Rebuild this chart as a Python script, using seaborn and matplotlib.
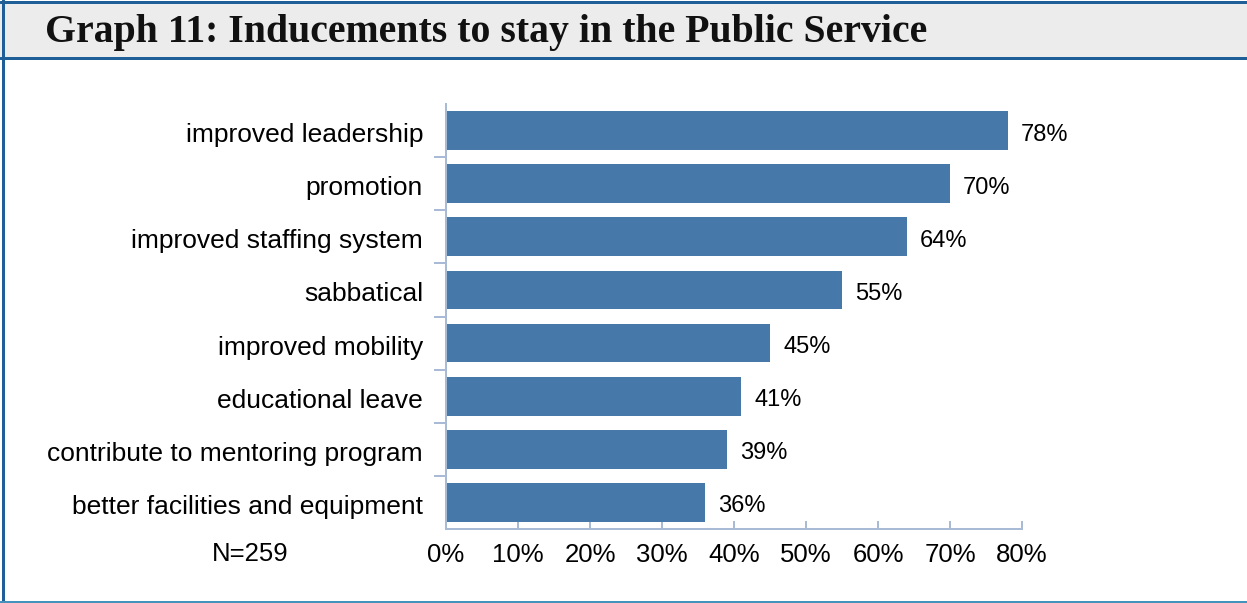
import matplotlib
matplotlib.use("Agg")
import matplotlib.pyplot as plt
from matplotlib.patches import Rectangle
from matplotlib.lines import Line2D
from matplotlib.transforms import ScaledTranslation
import seaborn as sns
import pandas as pd

# Survey results: share of respondents citing each inducement
categories = [
    "improved leadership",
    "promotion",
    "improved staffing system",
    "sabbatical",
    "improved mobility",
    "educational leave",
    "contribute to mentoring program",
    "better facilities and equipment",
]
values = [78, 70, 64, 55, 45, 41, 39, 36]
x_ticks = [0, 10, 20, 30, 40, 50, 60, 70, 80]
x_tick_labels = [f"{t}%" for t in x_ticks]
title = "Graph 11: Inducements to stay in the Public Service"
note = "N=259"

sns.set_theme(style="white")
plt.rcParams["font.family"] = ["Liberation Sans", "DejaVu Sans"]

W, H = 1247, 603
DPI = 100
PT = 72 / DPI  # points per pixel

BAR = "#4679aa"
AXIS = "#a9bad6"
FRAME = "#1d5f96"
FRAME_LIGHT = "#4593bd"
BAND = "#ececec"

fig = plt.figure(figsize=(W / DPI, H / DPI), dpi=DPI)
fig.patch.set_facecolor("white")

def fx(px):
    return px / W

def fy(py):
    return 1 - py / H

# Header band and frame lines
fig.patches.append(Rectangle((0, fy(57)), 1, fy(3) - fy(57), transform=fig.transFigure,
                             facecolor=BAND, edgecolor="none", zorder=0))
for line in [
    Line2D([0, 1], [fy(2), fy(2)], color=FRAME, lw=3 * PT),
    Line2D([0, 1], [fy(57.5), fy(57.5)], color=FRAME, lw=3 * PT),
    Line2D([fx(3), fx(3)], [fy(0), fy(603)], color=FRAME, lw=3 * PT),
    Line2D([0, 1], [fy(601.5), fy(601.5)], color=FRAME_LIGHT, lw=3 * PT),
]:
    line.set_transform(fig.transFigure)
    fig.lines.append(line)

title_txt = fig.text(fx(45), fy(42), title, ha="left", va="baseline",
                     family="Liberation Serif", weight="bold", fontsize=20, color="#111111")
# scale title so it spans the header as intended
fig.canvas.draw()
bb = title_txt.get_window_extent()
title_txt.set_fontsize(20 * 883 / bb.width)

ax = fig.add_axes([fx(446), fy(529), fx(1022) - fx(446), fy(104) - fy(529)])
df = pd.DataFrame({"category": categories, "value": values})
sns.barplot(data=df, x="value", y="category", orient="h", color=BAR,
            saturation=1, width=0.73, linewidth=0, ax=ax)

ax.set_xlim(0, 80)
ax.set_ylim(len(categories) - 0.5, -0.5)
ax.set_xlabel("")
ax.set_ylabel("")

for side in ["top", "right"]:
    ax.spines[side].set_visible(False)
for side in ["left", "bottom"]:
    ax.spines[side].set_color(AXIS)
    ax.spines[side].set_linewidth(2 * PT)

ax.set_xticks(x_ticks)
ax.set_xticklabels(x_tick_labels, fontsize=18.5, color="black")
ax.tick_params(axis="x", bottom=True, direction="in", length=8 * PT, width=2 * PT,
               color=AXIS, pad=14 * PT)

ax.set_yticks(range(len(categories)))
ax.set_yticklabels(categories, fontsize=19, color="black")
ax.set_yticks([i + 0.5 for i in range(len(categories) - 1)], minor=True)
ax.tick_params(axis="y", which="major", length=0, pad=23 * PT)
ax.tick_params(axis="y", which="minor", direction="out", length=12 * PT,
               width=2 * PT, color=AXIS, left=True)
# nudge category labels slightly below bar centres
shift = ScaledTranslation(0, -2 / DPI, fig.dpi_scale_trans)
for lab in ax.get_yticklabels():
    lab.set_transform(lab.get_transform() + shift)

for i, v in enumerate(values):
    ax.annotate(f"{v}%", xy=(v, i), xytext=(13 * PT, -4 * PT),
                textcoords="offset points", ha="left", va="center",
                fontsize=17, color="black")

fig.text(fx(250), fy(554), note, ha="center", va="center", fontsize=18.5, color="black")

fig.savefig("out.png", dpi=DPI)
